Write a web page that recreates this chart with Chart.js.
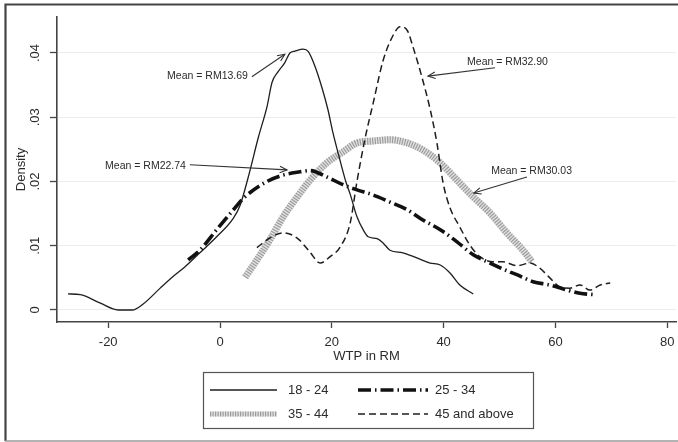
<!DOCTYPE html>
<html>
<head>
<meta charset="utf-8">
<script src="https://cdn.jsdelivr.net/npm/chart.js@4.4.0/dist/chart.umd.min.js"></script>
<style>
html,body{margin:0;padding:0;background:#fff;}
#wrap{width:678px;height:442px;}
</style>
</head>
<body>
<div id="wrap"><canvas id="c" width="678" height="442"></canvas></div>
<script>
// ---- data ----
const seriesNames = ["18 - 24", "25 - 34", "35 - 44", "45 and above"];

const age18_24_x = [-27.2,-25,-21.5,-18.2,-15.7,-13.8,-10.7,-8.4,-6.3,-3.6,-0.6,2.4,3.6,5.0,6.9,8.4,9.3,10.4,11.6,12.5,13.4,14.9,15.8,17.0,18.2,19.3,20.2,21.1,21.8,22.5,23.3,24.5,25.6,26.5,28.1,29.2,30.4,32.7,35.2,37.6,39.4,41.1,42.9,45.3];
const age18_24_y = [0.0025,0.0024,0.0011,0,0,0.0009,0.0034,0.0052,0.0067,0.0089,0.0114,0.0143,0.0163,0.0205,0.0270,0.0316,0.0354,0.0371,0.0385,0.0400,0.0403,0.0406,0.0402,0.0379,0.0347,0.0312,0.0276,0.0245,0.0222,0.0200,0.0180,0.0145,0.0125,0.0114,0.0111,0.0104,0.0093,0.0089,0.0081,0.0073,0.0070,0.0058,0.0039,0.0025];

const age25_34_x = [-5.7,-3.6,-0.6,2.4,4.2,8.4,11.3,14.3,16.1,19.1,22.0,24.5,27.4,30.4,33.5,36.3,39.4,42.4,45.3,48.3,51.9,53.1,56.0,59.0,62.1,64.4,66.7];
const age25_34_y = [0.0078,0.0093,0.0125,0.0156,0.0174,0.0200,0.0210,0.0215,0.0217,0.0207,0.0195,0.0187,0.0179,0.0168,0.0156,0.0140,0.0125,0.0106,0.0086,0.0073,0.0059,0.0055,0.0044,0.0039,0.0031,0.0026,0.0024];

const age35_44_x = [4.5,6.6,8.9,11.3,13.8,16.1,19.1,22.0,24.5,27.4,30.4,33.5,36.3,39.4,42.4,45.3,48.3,51.3,54.2,55.8];
const age35_44_y = [0.0051,0.0078,0.0109,0.0145,0.0176,0.0202,0.0229,0.0246,0.0260,0.0263,0.0265,0.0260,0.0249,0.0229,0.0202,0.0176,0.0151,0.0120,0.0093,0.0075];

const age45_plus_x = [6.6,8.9,11.3,13.8,16.1,17.9,19.7,21.5,23.3,24.5,25.9,27.4,29.2,31.0,32.2,33.5,34.5,36.1,37.6,38.8,39.9,41.1,42.9,44.7,46.5,48.8,50.6,53.1,55.5,57.2,59.0,60.8,62.6,64.4,66.2,68.0,69.8];
const age45_plus_y = [0.0097,0.0112,0.0120,0.0112,0.0090,0.0073,0.0083,0.0098,0.0136,0.0200,0.0265,0.0322,0.0389,0.0428,0.0441,0.0435,0.0410,0.0363,0.0312,0.0260,0.0198,0.0160,0.0129,0.0101,0.0083,0.0075,0.0075,0.0069,0.0073,0.0065,0.0050,0.0036,0.0034,0.0039,0.0031,0.0039,0.0042];

const xTicks = [-20, 0, 20, 40, 60, 80];
const xTickLabels = ["-20", "0", "20", "40", "60", "80"];
const yTicks = [0, 0.01, 0.02, 0.03, 0.04];
const yTickLabels = ["0", ".01", ".02", ".03", ".04"];

const xTitle = "WTP in RM";
const yTitle = "Density";

const meanLabels = ["Mean = RM13.69", "Mean = RM22.74", "Mean = RM32.90", "Mean = RM30.03"];

// ---- layout / annotation placement (data units) ----
const annotationPlacement = [
  {text: meanLabels[0], tx: 5.0,  ty: 0.0364, align: 'right', from: [5.7, 0.0363],  to: [11.6, 0.0398]},
  {text: meanLabels[1], tx: -6.1, ty: 0.0224, align: 'right', from: [-5.4, 0.0226], to: [12.0, 0.0218]},
  {text: meanLabels[2], tx: 44.2, ty: 0.0386, align: 'left',  from: [49.2, 0.0377], to: [37.2, 0.0364]},
  {text: meanLabels[3], tx: 48.5, ty: 0.0216, align: 'left',  from: [54.9, 0.0207], to: [45.4, 0.0182]}
];

const pts = (xs, ys) => xs.map((v, i) => ({x: v, y: ys[i]}));
const FONT = '"Liberation Sans", Arial, Helvetica, sans-serif';
const TXT = '#2b2b2b';

const styles = {
  s1: {borderColor: '#1e1e1e', borderWidth: 1.3, borderDash: []},
  s2: {borderColor: '#111111', borderWidth: 3.6, borderDash: [13, 4, 1.5, 4]},
  s3base: {borderColor: '#e2e2e2', borderWidth: 7, borderDash: []},
  s3hatch: {borderColor: '#9c9c9c', borderWidth: 7, borderDash: [1.2, 1.3]},
  s4: {borderColor: '#1e1e1e', borderWidth: 1.5, borderDash: [7, 4]}
};

function ds(label, data, st, order) {
  return Object.assign({
    label, data, order,
    fill: false, pointRadius: 0, pointHoverRadius: 0,
    tension: 0.35, cubicInterpolationMode: 'monotone',
    borderCapStyle: 'butt', borderJoinStyle: 'round'
  }, st);
}

const datasets = [
  ds(seriesNames[0], pts(age18_24_x, age18_24_y), styles.s1, 1),
  ds(seriesNames[1], pts(age25_34_x, age25_34_y), styles.s2, 2),
  ds(seriesNames[3], pts(age45_plus_x, age45_plus_y), styles.s4, 3),
  ds(seriesNames[2], pts(age35_44_x, age35_44_y), styles.s3hatch, 4),
  ds(seriesNames[2] + ' base', pts(age35_44_x, age35_44_y), styles.s3base, 5)
];

function arrow(ctx, x1, y1, x2, y2) {
  ctx.beginPath();
  ctx.moveTo(x1, y1); ctx.lineTo(x2, y2); ctx.stroke();
  const ang = Math.atan2(y2 - y1, x2 - x1);
  const L = 8, w = 0.42;
  ctx.beginPath();
  ctx.moveTo(x2 - L * Math.cos(ang - w), y2 - L * Math.sin(ang - w));
  ctx.lineTo(x2, y2);
  ctx.lineTo(x2 - L * Math.cos(ang + w), y2 - L * Math.sin(ang + w));
  ctx.stroke();
}

function legendLine(ctx, st, x1, x2, y) {
  ctx.save();
  ctx.strokeStyle = st.borderColor;
  ctx.lineWidth = st.borderWidth;
  ctx.setLineDash(st.borderDash);
  ctx.lineCap = 'butt';
  ctx.beginPath(); ctx.moveTo(x1, y); ctx.lineTo(x2, y); ctx.stroke();
  ctx.restore();
}

const overlay = {
  id: 'overlay',
  afterDraw(chart) {
    const {ctx, chartArea: a, scales: {x, y}} = chart;
    ctx.save();
    // outer frame
    ctx.strokeStyle = '#444'; ctx.lineWidth = 2.2;
    ctx.beginPath(); ctx.moveTo(5.5, 441); ctx.lineTo(5.5, 4.5); ctx.lineTo(678, 4.5); ctx.stroke();
    ctx.strokeStyle = '#9a9a9a'; ctx.lineWidth = 1.5;
    ctx.beginPath(); ctx.moveTo(5, 441); ctx.lineTo(678, 441); ctx.stroke();

    // tick labels
    ctx.fillStyle = TXT;
    ctx.font = '13px ' + FONT;
    ctx.textAlign = 'center'; ctx.textBaseline = 'middle';
    xTicks.forEach((v, i) => ctx.fillText(xTickLabels[i], x.getPixelForValue(v), a.bottom + 20));
    yTicks.forEach((v, i) => {
      ctx.save(); ctx.translate(35, y.getPixelForValue(v)); ctx.rotate(-Math.PI / 2);
      ctx.fillText(yTickLabels[i], 0, 0); ctx.restore();
    });
    // axis titles
    ctx.fillText(xTitle, (a.left + a.right) / 2, a.bottom + 34);
    ctx.save(); ctx.translate(21, (a.top + a.bottom) / 2); ctx.rotate(-Math.PI / 2);
    ctx.fillText(yTitle, 0, 0); ctx.restore();

    // annotations
    ctx.font = '10.5px ' + FONT;
    ctx.strokeStyle = '#333'; ctx.lineWidth = 1.1;
    annotationPlacement.forEach(an => {
      ctx.textAlign = an.align;
      ctx.fillText(an.text, x.getPixelForValue(an.tx), y.getPixelForValue(an.ty));
      arrow(ctx, x.getPixelForValue(an.from[0]), y.getPixelForValue(an.from[1]),
                 x.getPixelForValue(an.to[0]), y.getPixelForValue(an.to[1]));
    });

    // legend box
    const lx = 203.5, ly = 372.5, lw = 330, lh = 56;
    ctx.strokeStyle = '#555'; ctx.lineWidth = 1.2;
    ctx.strokeRect(lx, ly, lw, lh);
    const r1 = 390, r2 = 414;
    legendLine(ctx, Object.assign({}, styles.s1, {borderWidth: 1.6}), 210, 277, r1);
    legendLine(ctx, styles.s2, 358, 428, r1);
    legendLine(ctx, Object.assign({}, styles.s3base, {borderWidth: 5}), 210, 277, r2);
    legendLine(ctx, Object.assign({}, styles.s3hatch, {borderWidth: 5}), 210, 277, r2);
    legendLine(ctx, styles.s4, 358, 428, r2);
    ctx.font = '13px ' + FONT; ctx.textAlign = 'left'; ctx.fillStyle = TXT;
    ctx.fillText(seriesNames[0], 288, r1);
    ctx.fillText(seriesNames[1], 435, r1);
    ctx.fillText(seriesNames[2], 288, r2);
    ctx.fillText(seriesNames[3], 435, r2);
    ctx.restore();
  }
};

new Chart(document.getElementById('c'), {
  type: 'line',
  data: {datasets},
  options: {
    responsive: false,
    animation: false,
    events: [],
    layout: {padding: {left: 0, top: 17, right: 2, bottom: 0}},
    plugins: {legend: {display: false}, tooltip: {enabled: false}, title: {display: false}},
    scales: {
      x: {
        type: 'linear', min: -29.16, max: 81.57,
        afterBuildTicks: s => { s.ticks = xTicks.map(v => ({value: v})); },
        afterFit: s => { s.height = 120; },
        ticks: {display: false},
        grid: {drawOnChartArea: false, drawTicks: true, tickLength: 6, tickColor: '#444', tickWidth: 1.3},
        border: {display: true, color: '#444', width: 1.6},
        title: {display: false}
      },
      y: {
        type: 'linear', min: -0.00187, max: 0.0456,
        afterBuildTicks: s => { s.ticks = yTicks.map(v => ({value: v})); },
        afterFit: s => { s.width = 57; },
        ticks: {display: false},
        grid: {drawOnChartArea: true, color: '#ececec', lineWidth: 1, drawTicks: true, tickLength: 7, tickColor: '#444', tickWidth: 1.3},
        border: {display: true, color: '#444', width: 1.6},
        title: {display: false}
      }
    }
  },
  plugins: [overlay]
});
</script>
</body>
</html>
